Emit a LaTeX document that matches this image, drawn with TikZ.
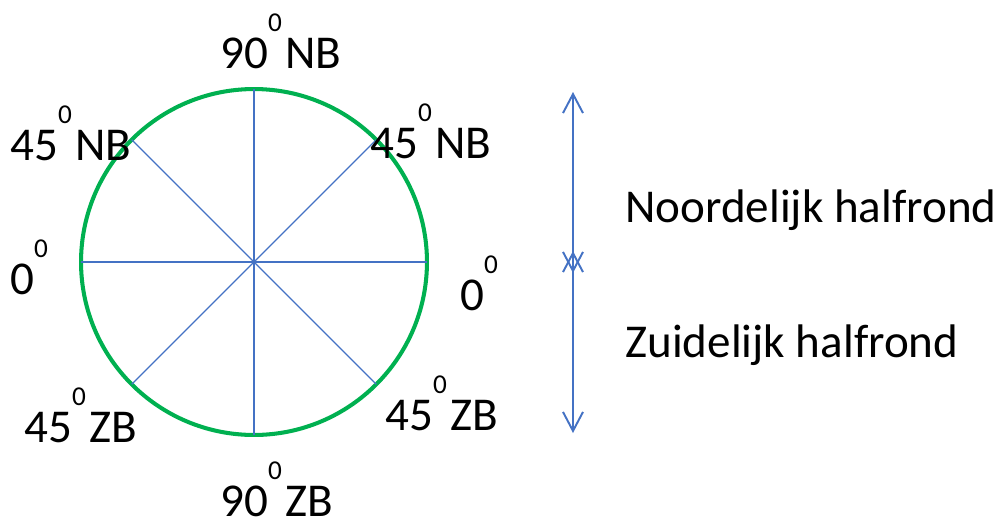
\documentclass[tikz,border=0pt]{standalone}
\usepackage{fontspec}
\setmainfont{Carlito}
\usetikzlibrary{arrows.meta}
\definecolor{ringgreen}{RGB}{0,176,80}
\definecolor{spokeblue}{RGB}{68,114,196}
\newcommand{\grd}{\raisebox{20.5pt}{\fontsize{15.5}{15.5}\selectfont 0}\hspace{2pt}}

\begin{document}
\begin{tikzpicture}[x=0.02cm, y=-0.02cm,
        lbl/.style={inner sep=0pt, anchor=base west, font=\fontsize{26.8}{30}\selectfont},
        spoke/.style={draw=spokeblue, line width=0.75pt},
        hemi/.style={draw=spokeblue, line width=1.1pt, {Straight Barb[length=3.8mm,width=4mm]}-{Straight Barb[length=3.8mm,width=4mm]}}]
        \useasboundingbox (0, 0) rectangle (1005, 522);

        \node[circle, draw=ringgreen, line width=2.3pt, minimum size=6.92cm, inner sep=0pt, outer sep=0pt] at (254, 262) (globe) {};

        \draw[spoke] (globe.center) -- (globe.0);
        \draw[spoke] (globe.center) -- (globe.45);
        \draw[spoke] (globe.center) -- (globe.90);
        \draw[spoke] (globe.center) -- (globe.135);
        \draw[spoke] (globe.center) -- (globe.180);
        \draw[spoke] (globe.center) -- (globe.225);
        \draw[spoke] (globe.center) -- (globe.270);
        \draw[spoke] (globe.center) -- (globe.315);

        \node[lbl] at (220, 68)   (n90)  {90\grd NB};
        \node[lbl] at (10, 160)   (n45w) {45\grd NB};
        \node[lbl] at (370, 158)  (n45e) {45\grd NB};
        \node[lbl] at (10, 294)   (eqw)  {0\grd};
        \node[lbl] at (460, 310)  (eqe)  {0\grd};
        \node[lbl] at (24, 442)   (z45w) {45\grd ZB};
        \node[lbl] at (385, 430)  (z45e) {45\grd ZB};
        \node[lbl] at (220, 516)  (z90)  {90\grd ZB};

        \node[lbl] at (625, 222)  (noord) {Noordelijk halfrond};
        \node[lbl] at (625, 357)  (zuid)  {Zuidelijk halfrond};

        \coordinate (top)  at (573, 92);
        \coordinate (midn) at (573, 273);
        \coordinate (midz) at (573, 251);
        \coordinate (bot)  at (573, 433);

        \draw[hemi] (top) -- (midn);
        \draw[hemi] (midz) -- (bot);
    \end{tikzpicture}
\end{document}
